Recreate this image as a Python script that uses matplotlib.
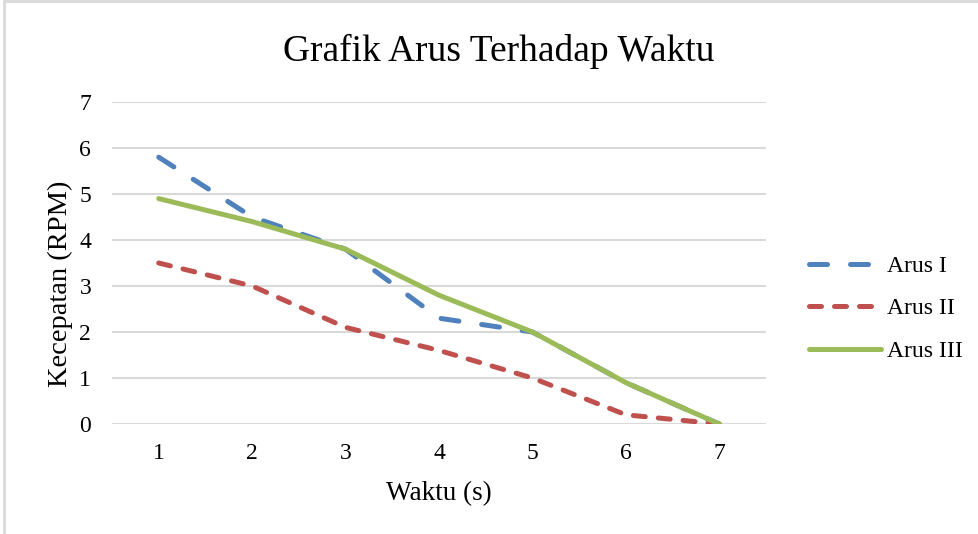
import matplotlib.pyplot as plt
from matplotlib.patches import Rectangle

plt.rcParams["font.family"] = ["Liberation Serif", "DejaVu Serif"]

waktu = [1, 2, 3, 4, 5, 6, 7]
arus_1 = [5.8, 4.5, 3.8, 2.3, 2.0, 0.9, 0.0]
arus_2 = [3.5, 3.0, 2.1, 1.6, 1.0, 0.2, 0.0]
arus_3 = [4.9, 4.4, 3.8, 2.8, 2.0, 0.9, 0.0]
y_ticks = [0, 1, 2, 3, 4, 5, 6, 7]


def main():
    fig = plt.figure(figsize=(9.79, 5.34), dpi=100)
    ax = fig.add_axes([0.1144, 0.206, 0.668, 0.603])

    # chart area border (only left and top visible in the reference)
    fig.patches.append(Rectangle((0.004, -0.1), 1.2, 1.098, transform=fig.transFigure,
                                 fill=False, edgecolor="#D9D9D9", linewidth=2))

    ax.plot(waktu, arus_1, color="#4F81BD", linewidth=3.6, dashes=(3.6, 4.6),
            dash_capstyle="round", label="Arus I")
    ax.plot(waktu, arus_2, color="#C0504D", linewidth=3.6, dashes=(2.4, 2.6),
            dash_capstyle="round", label="Arus II")
    ax.plot(waktu, arus_3, color="#9BBB59", linewidth=3.6, solid_capstyle="round",
            label="Arus III")

    ax.set_xlim(0.5, 7.5)
    ax.set_ylim(0, 7)
    ax.set_xticks(waktu)
    ax.set_yticks(y_ticks)
    ax.tick_params(length=0, labelsize=17)
    ax.tick_params(axis="x", pad=14)
    ax.tick_params(axis="y", pad=15)
    ax.grid(axis="y", color="#D9D9D9", linewidth=1.5)
    ax.set_axisbelow(True)
    for s in ax.spines.values():
        s.set_visible(False)

    fig.text(0.509, 0.904, "Grafik Arus Terhadap Waktu", fontsize=27,
             ha="center", va="center")
    ax.set_xlabel("Waktu (s)", fontsize=19.5, labelpad=12)
    ax.set_ylabel("Kecepatan (RPM)", fontsize=20.5)
    ax.yaxis.set_label_coords(-0.06, 0.435)

    ax.legend(loc="center left", bbox_to_anchor=(1.033, 0.358), frameon=False,
              fontsize=17, handlelength=3.05, labelspacing=0.88, handletextpad=0.25)

    fig.savefig("out.png", dpi=100)


if __name__ == "__main__":
    main()
